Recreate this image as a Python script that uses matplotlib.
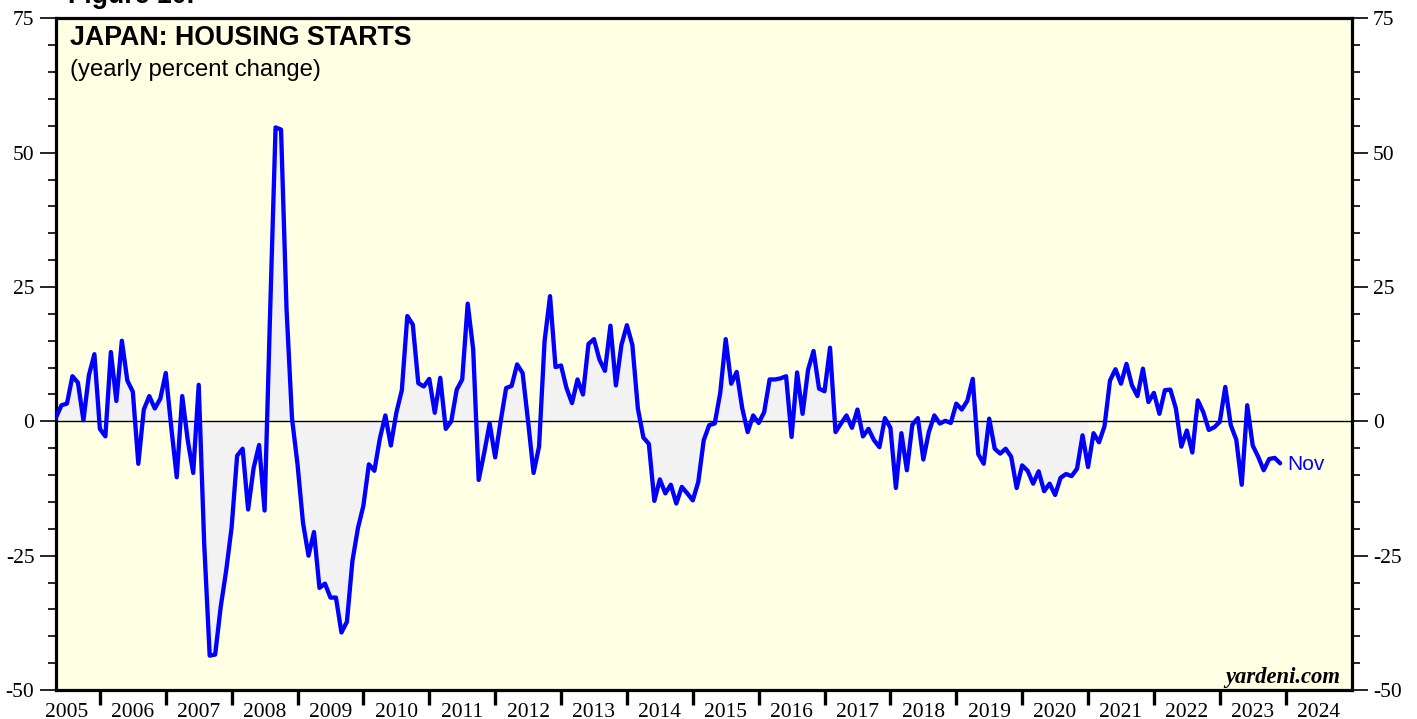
import numpy as np
import matplotlib
matplotlib.use("Agg")
import matplotlib.pyplot as plt
from matplotlib.ticker import MultipleLocator, FixedLocator, NullFormatter

# Japan housing starts, yearly % change, monthly (Apr 2005 .. Nov 2023)
start_year = 2005
start_month = 4
hs_2005 = [0.7, 3.0, 3.3, 8.4, 7.2, 0.2, 8.6, 12.5, -1.4]
hs_2006 = [-2.8, 12.9, 3.8, 15.0, 7.6, 5.5, -7.9, 2.2, 4.7, 2.4, 4.2, 9.0]
hs_2007 = [-1.1, -10.4, 4.7, -3.5, -9.6, 6.8, -22.8, -43.6, -43.4, -34.6, -27.8, -19.7]
hs_2008 = [-6.4, -5.1, -16.4, -8.7, -4.4, -16.6, 20.0, 54.7, 54.3, 20.9, 0.5, -8.0]
hs_2009 = [-18.9, -25.0, -20.6, -31.0, -30.2, -32.8, -32.8, -39.3, -37.3, -26.0, -19.9, -15.7]
hs_2010 = [-8.0, -9.2, -3.2, 1.1, -4.5, 1.6, 5.8, 19.6, 18.0, 7.1, 6.5, 7.9]
hs_2011 = [1.6, 8.1, -1.4, 0.0, 5.9, 7.8, 21.9, 13.4, -10.9, -5.9, -0.4, -6.7]
hs_2012 = [0.0, 6.2, 6.6, 10.6, 9.0, 0.0, -9.6, -4.7, 14.9, 23.3, 10.1, 10.4]
hs_2013 = [6.2, 3.4, 7.8, 5.0, 14.4, 15.3, 11.5, 9.4, 17.8, 6.7, 14.2, 17.9]
hs_2014 = [14.2, 2.4, -3.0, -4.2, -14.8, -10.8, -13.4, -11.8, -15.3, -12.2, -13.4, -14.7]
hs_2015 = [-11.3, -3.5, -0.7, -0.4, 5.3, 15.3, 7.0, 9.2, 2.5, -2.0, 1.1, -0.3]
hs_2016 = [1.7, 7.8, 7.8, 8.0, 8.4, -2.9, 9.1, 1.4, 9.6, 13.1, 6.1, 5.6]
hs_2017 = [13.7, -2.0, -0.4, 1.1, -1.2, 2.2, -2.8, -1.4, -3.5, -4.8, 0.6, -1.2]
hs_2018 = [-12.4, -2.2, -9.1, -0.6, 0.6, -7.1, -2.0, 1.1, -0.4, 0.1, -0.3, 3.3]
hs_2019 = [2.2, 3.8, 7.9, -6.1, -7.9, 0.5, -5.1, -6.0, -5.1, -6.6, -12.4, -8.2]
hs_2020 = [-9.2, -11.6, -9.3, -13.0, -11.6, -13.7, -10.5, -9.8, -10.2, -8.8, -2.6, -8.5]
hs_2021 = [-2.2, -3.9, -0.9, 7.6, 9.7, 7.0, 10.7, 6.7, 4.7, 9.8, 3.6, 5.3]
hs_2022 = [1.4, 5.8, 5.9, 2.4, -4.7, -1.7, -5.8, 3.9, 1.7, -1.6, -1.1, -0.1]
hs_2023 = [6.4, -0.7, -3.4, -11.8, 3.0, -4.5, -6.6, -9.1, -7.0, -6.8, -7.8]

year_labels = [str(y) for y in range(2005, 2025)]
y_ticks = [-50, -25, 0, 25, 50, 75]
last_label = "Nov"
shade_until = 2021.0

values = np.array(hs_2005 + hs_2006 + hs_2007 + hs_2008 + hs_2009 + hs_2010 + hs_2011
                  + hs_2012 + hs_2013 + hs_2014 + hs_2015 + hs_2016 + hs_2017 + hs_2018
                  + hs_2019 + hs_2020 + hs_2021 + hs_2022 + hs_2023)
# points sit at month end
x = start_year + (start_month + np.arange(len(values))) / 12.0

serif = "Liberation Serif"
sans = "Liberation Sans"

fig = plt.figure(figsize=(14.17, 7.19), dpi=100)
ax = fig.add_axes([0.0395, 0.0403, 0.9143, 0.9342])
ax.set_facecolor("#FFFFE4")

ax.fill_between(x, values, 0, where=x <= shade_until + 1e-6, color="#F2F2F2", lw=0, zorder=1)
ax.axhline(0, color="black", lw=1.0, zorder=2)
ax.plot(x, values, color="#0000FF", lw=3.1, solid_joinstyle="round", solid_capstyle="round", zorder=3)

ax.annotate(last_label, xy=(x[-1], values[-1]), xytext=(5, -1), textcoords="offset points",
            va="center", ha="left", color="#0000FF", fontsize=15, family=sans)

ax.set_xlim(start_year + start_month / 12.0, 2025)
ax.set_ylim(-50, 75)

# year ticks at boundaries, labels centred in the year
ax.xaxis.set_major_locator(FixedLocator(np.arange(2006, 2025)))
ax.xaxis.set_major_formatter(NullFormatter())
ax.xaxis.set_minor_locator(FixedLocator(np.arange(2005, 2025) + 0.5))
ax.set_xticklabels(year_labels, minor=True, fontsize=15.5, family=serif)
ax.tick_params(axis="x", which="major", direction="out", length=11, width=2.4)
ax.tick_params(axis="x", which="minor", length=0, pad=9)

ax.set_yticks(y_ticks)
ax.set_yticklabels([str(v) for v in y_ticks], fontsize=15.5, family=serif)
ax.yaxis.set_minor_locator(MultipleLocator(5))
ax.tick_params(axis="y", which="both", direction="out", left=True, right=True,
               labelleft=True, labelright=True, width=1.2, pad=4)
ax.tick_params(axis="y", which="major", length=11.5)
ax.tick_params(axis="y", which="minor", length=6)

for side in ["left", "right", "top", "bottom"]:
    ax.spines[side].set_linewidth(2.3)
    ax.spines[side].set_color("black")

ax.text(0.0108, 0.960, "JAPAN: HOUSING STARTS", transform=ax.transAxes, fontsize=19.3,
        fontweight="bold", family=sans, va="baseline")
ax.text(0.0108, 0.914, "(yearly percent change)", transform=ax.transAxes, fontsize=17.2,
        family=sans, va="baseline")
ax.text(0.991, 0.011, "yardeni.com", transform=ax.transAxes, fontsize=16.3, family=serif,
        fontweight="bold", style="italic", ha="right", va="baseline")

fig.text(0.048, 0.9958, "Figure 10.", fontsize=19.3, fontweight="bold", family=sans, va="baseline")

fig.savefig("out.png", dpi=100)
